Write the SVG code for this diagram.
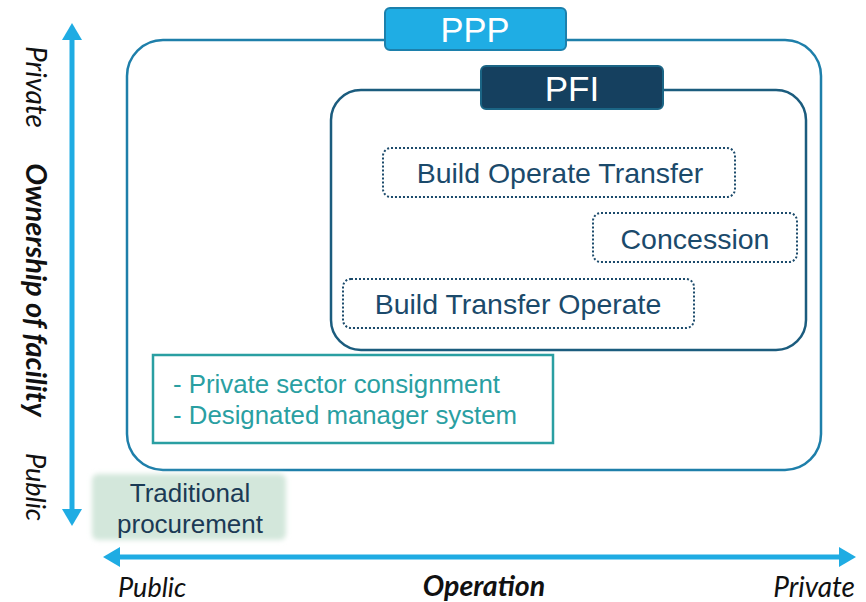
<svg xmlns="http://www.w3.org/2000/svg" width="866" height="602" viewBox="0 0 866 602">
<style>
.axis{font-family:Lato,"Open Sans",sans-serif;font-style:italic;fill:#111;}
.lbl{font-family:"Liberation Sans",Arial,sans-serif;}
.dot{fill:#fff;stroke:#1B4A6B;stroke-width:2;stroke-dasharray:2 2;}
.box{font-family:"Liberation Sans",Arial,sans-serif;font-size:28.5px;fill:#1B4A6B;text-anchor:middle;}
</style>
<defs>
<filter id="blur" x="-10%" y="-20%" width="120%" height="140%"><feGaussianBlur stdDeviation="2.5"/></filter>
</defs>
<g id="axes">
<line x1="72" y1="38" x2="72" y2="510" stroke="#1FACE3" stroke-width="5"/>
<polygon points="72,23 62,40 82,40" fill="#1FACE3"/>
<polygon points="72,526 62,509 82,509" fill="#1FACE3"/>
<line x1="118" y1="557" x2="840" y2="557" stroke="#1FACE3" stroke-width="5"/>
<polygon points="103,557 120,547 120,567" fill="#1FACE3"/>
<polygon points="856,557 839,547 839,567" fill="#1FACE3"/>
<text class="axis" font-size="28" text-anchor="middle" transform="translate(26,87) rotate(90)">Private</text>
<text class="axis" font-size="29" font-weight="bold" text-anchor="middle" transform="translate(26,290) rotate(90)">Ownership of facility</text>
<text class="axis" font-size="27" text-anchor="middle" transform="translate(26,487) rotate(90)">Public</text>
<text class="axis" x="118" y="597" font-size="27">Public</text>
<text class="axis" x="484" y="596" font-size="28.5" font-weight="bold" text-anchor="middle">Operation</text>
<text class="axis" x="855" y="597" font-size="28" text-anchor="end">Private</text>
</g>
<g id="ppp">
<rect x="127" y="40" width="694" height="430" rx="36" fill="none" stroke="#1E7FAA" stroke-width="2.5"/>
<rect x="385" y="8" width="181" height="42" rx="5" fill="#1FADE4" stroke="#1C80AC" stroke-width="2"/>
<text class="lbl" x="475" y="42" font-size="34.5" fill="#fff" text-anchor="middle">PPP</text>
</g>
<g id="pfi">
<rect x="331" y="90" width="475" height="260" rx="30" fill="none" stroke="#1B5C7E" stroke-width="2.5"/>
<rect x="481" y="66" width="182" height="43" rx="5" fill="#15405F" stroke="#1B6585" stroke-width="2"/>
<text class="lbl" x="572" y="101" font-size="35" fill="#fff" text-anchor="middle">PFI</text>
</g>
<g id="bot">
<rect class="dot" x="383" y="148" width="352" height="49" rx="8"/>
<text class="box" x="560" y="183">Build Operate Transfer</text>
</g>
<g id="concession">
<rect class="dot" x="593" y="213" width="204" height="49" rx="8"/>
<text class="box" x="695" y="249">Concession</text>
</g>
<g id="bto">
<rect class="dot" x="343" y="279" width="351" height="49" rx="8"/>
<text class="box" x="518" y="314">Build Transfer Operate</text>
</g>
<g id="consignment">
<rect x="153" y="355" width="400" height="88" fill="#fff" stroke="#2A9FA2" stroke-width="2.5"/>
<text class="lbl" x="173" y="393" font-size="25.8" fill="#2A9FA2">- Private sector consignment</text>
<text class="lbl" x="173" y="424" font-size="25.8" fill="#2A9FA2">- Designated manager system</text>
</g>
<g id="traditional">
<rect x="92" y="474" width="194" height="66" rx="6" fill="#D3E7DB" filter="url(#blur)"/>
<text class="lbl" x="190" y="502" font-size="26" fill="#1B3A55" text-anchor="middle">Traditional</text>
<text class="lbl" x="190" y="533" font-size="26" fill="#1B3A55" text-anchor="middle">procurement</text>
</g>
</svg>
